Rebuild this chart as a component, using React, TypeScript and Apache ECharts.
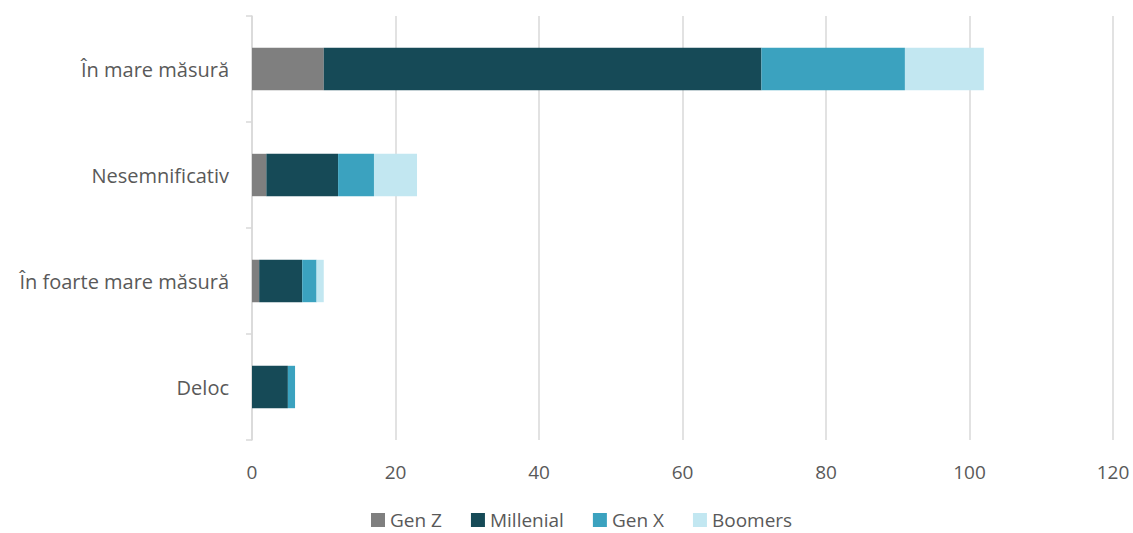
import React, { useEffect, useRef } from "react";
import * as echarts from "echarts";

const categories = ["Deloc", "În foarte mare măsură", "Nesemnificativ", "În mare măsură"];
const genZ = [0, 1, 2, 10];
const millenial = [5, 6, 10, 61];
const genX = [1, 2, 5, 20];
const boomers = [0, 1, 6, 11];
const seriesNames = ["Gen Z", "Millenial", "Gen X", "Boomers"];
const colors = ["#7f7f7f", "#164a57", "#3ba2bf", "#c2e7f1"];

export default function App() {
  const ref = useRef<HTMLDivElement>(null);
  useEffect(() => {
    const chart = echarts.init(ref.current!, null, { renderer: "svg" });
    const data = [genZ, millenial, genX, boomers];
    chart.setOption({
      animation: false,
      textStyle: { fontFamily: "Open Sans" },
      grid: { left: 252, right: 20, top: 16, bottom: 93, containLabel: false },
      legend: {
        top: 504,
        left: 366,
        padding: [5, 5, 5, 5],
        itemWidth: 14,
        itemHeight: 14,
        itemGap: 29,
        icon: "rect",
        textStyle: { color: "#595959", fontSize: 19, lineHeight: 22, fontFamily: "Open Sans" },
        data: seriesNames,
      },
      xAxis: {
        type: "value",
        min: 0,
        max: 120,
        interval: 20,
        axisLine: { show: false },
        axisTick: { show: false },
        axisLabel: { color: "#595959", fontSize: 19, margin: 22 },
        splitLine: { lineStyle: { color: "#d9d9d9", width: 1.5 } },
      },
      yAxis: {
        type: "category",
        data: categories,
        axisLine: { lineStyle: { color: "#d9d9d9", width: 1.5 } },
        axisTick: { show: true, length: 6, lineStyle: { color: "#d9d9d9", width: 1.5 } },
        axisLabel: { color: "#595959", fontSize: 20, margin: 23 },
      },
      series: seriesNames.map((name, i) => ({
        name,
        type: "bar",
        stack: "total",
        barWidth: "40%",
        data: data[i],
        itemStyle: { color: colors[i] },
      })),
    });
    return () => chart.dispose();
  }, []);
  return <div ref={ref} style={{ width: 1133, height: 533, position: "absolute", left: 0, top: 0 }} />;
}
